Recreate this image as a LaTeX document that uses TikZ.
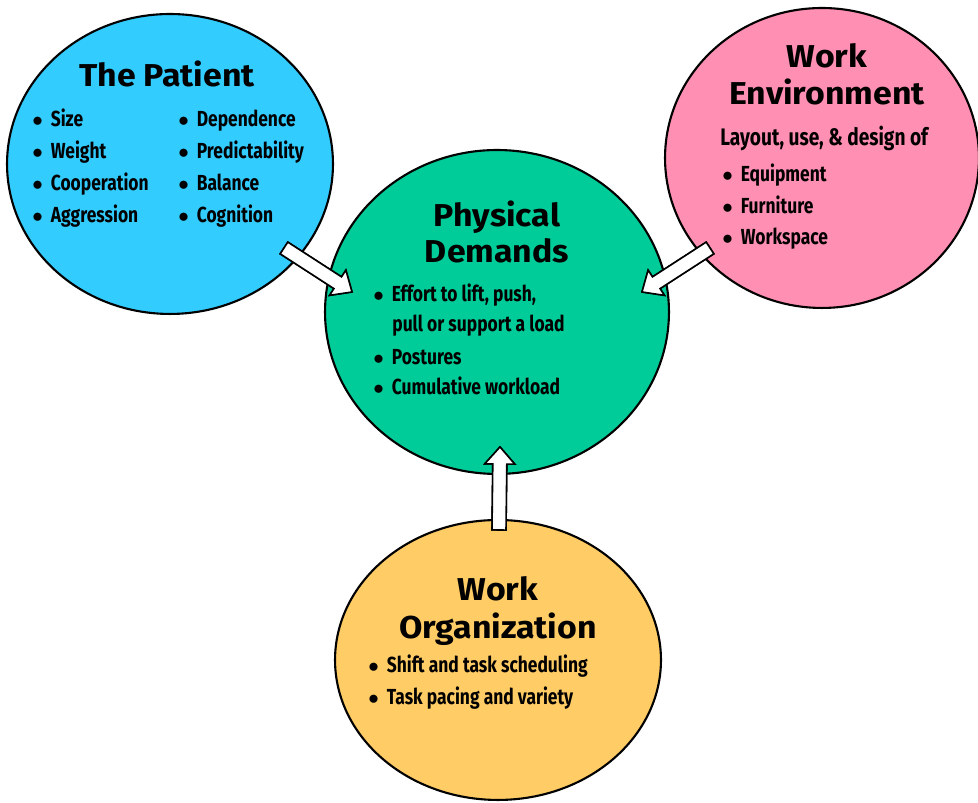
\documentclass[tikz,border=0pt]{standalone}
\usepackage{fontspec}
\setmainfont{Fira Sans}
\newfontfamily\ttlfont{Fira Sans}[FakeStretch=1.07]
\newfontfamily\itmfont{Fira Sans}[FakeStretch=0.8]
\usetikzlibrary{calc,shapes.geometric}

\definecolor{patblue}{RGB}{51,204,255}
\definecolor{physgreen}{RGB}{0,204,153}
\definecolor{envpink}{RGB}{255,143,179}
\definecolor{orgorange}{RGB}{255,204,102}

\tikzset{
  blob/.style={ellipse, draw=black, line width=1.2pt, inner sep=0pt},
  ttl/.style={anchor=base, inner sep=0pt, font=\ttlfont\bfseries\fontsize{18}{21}\selectfont},
  itm/.style={anchor=base west, inner sep=0pt, font=\itmfont\bfseries\fontsize{12.4}{15}\selectfont},
}
\newcommand{\bul}{\makebox[0.37cm][l]{$\bullet$}}

% block arrow with a drop shadow, from tail #1 to tip #2
\newcommand{\blockarrow}[2]{%
  \coordinate (hb) at ($(#2)!0.34cm!(#1)$);
  \foreach \sh/\fc in {{(0.08,-0.08)}/black, {(0,0)}/white}
    \filldraw[fill=\fc, draw=black, line width=0.9pt, line join=miter, shift=\sh]
      ($(#1)!0.14cm!90:(#2)$) -- ($(hb)!0.14cm!-90:(#1)$) -- ($(hb)!0.30cm!-90:(#1)$)
      -- (#2) -- ($(hb)!0.30cm!90:(#1)$) -- ($(hb)!0.14cm!90:(#1)$)
      -- ($(#1)!0.14cm!-90:(#2)$) -- cycle;
}

\begin{document}
\begin{tikzpicture}[x=0.02cm, y=0.02cm]
  \useasboundingbox (0,0) rectangle (978,803);

  % the four circles
  \node[blob, fill=patblue, minimum width=6.52cm, minimum height=6.0cm]   (pat)  at (170,639) {};
  \node[blob, fill=envpink, minimum width=6.28cm, minimum height=6.0cm]   (env)  at (822,645) {};
  \node[blob, fill=orgorange, minimum width=6.52cm, minimum height=5.6cm] (org)  at (498,143) {};
  \node[blob, fill=physgreen, minimum width=6.88cm, minimum height=6.48cm] (phys) at (497,491) {};

  % The Patient
  \node[ttl] (patT) at (167,716) {The Patient};
  \foreach \t [count=\i] in {Size, Weight, Cooperation, Aggression}
    \node[itm] (patA\i) at (32,{803-127-32*(\i-1)}) {\bul\t};
  \foreach \t [count=\i] in {Dependence, Predictability, Balance, Cognition}
    \node[itm] (patB\i) at (178,{803-127-32*(\i-1)}) {\bul\t};

  % Physical Demands
  \node[ttl] (physT1) at (497,576) {Physical};
  \node[ttl] (physT2) at (497,540) {Demands};
  \node[itm] (phys1) at (373,501) {\bul Effort to lift, push,};
  \node[itm] (phys1b) at (392,471) {pull or support a load};
  \node[itm] (phys2) at (373,438) {\bul Postures};
  \node[itm] (phys3) at (373,408) {\bul Cumulative workload};

  % Work Environment
  \node[ttl] (envT1) at (827,735) {Work};
  \node[ttl] (envT2) at (827,698) {Environment};
  \node[itm, font=\itmfont\bfseries\fontsize{13.6}{15}\selectfont] (envL) at (720,657) {Layout, use, \& design of};
  \foreach \t [count=\i] in {Equipment, Furniture, Workspace}
    \node[itm] (env\i) at (722,{803-182-31.5*(\i-1)}) {\bul\t};

  % Work Organization
  \node[ttl] (orgT1) at (498,202) {Work};
  \node[ttl] (orgT2) at (498,164) {Organization};
  \node[itm] (org1) at (368,130) {\bul Shift and task scheduling};
  \node[itm] (org2) at (368,98)  {\bul Task pacing and variety};

  % arrows into Physical Demands
  \coordinate (patTail) at (284,555);
  \coordinate (patTip)  at (352,511);
  \coordinate (envTail) at (710,555);
  \coordinate (envTip)  at (642,511);
  \coordinate (orgTail) at (499,273);
  \coordinate (orgTip)  at (500,356);
  \blockarrow{patTail}{patTip}
  \blockarrow{envTail}{envTip}
  \blockarrow{orgTail}{orgTip}
\end{tikzpicture}
\end{document}
